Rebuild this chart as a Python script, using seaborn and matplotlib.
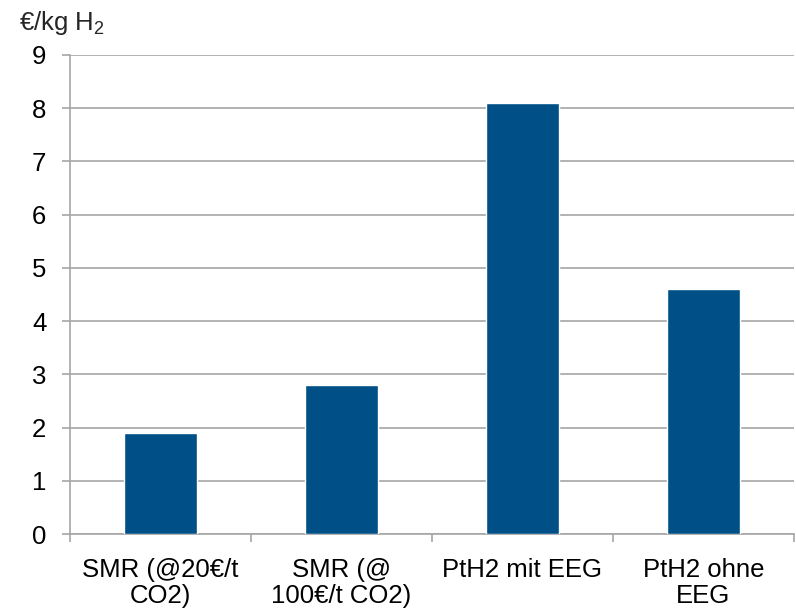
import matplotlib
matplotlib.use("Agg")
import matplotlib.pyplot as plt
import seaborn as sns
import pandas as pd
from matplotlib.ticker import FixedLocator

categories = ["SMR (@20€/t\nCO2)", "SMR (@\n100€/t CO2)", "PtH2 mit EEG", "PtH2 ohne\nEEG"]
values = [1.9, 2.8, 8.1, 4.6]
yticks = [0, 1, 2, 3, 4, 5, 6, 7, 8, 9]

sns.set_theme(style="white")
plt.rcParams['font.family'] = ['Liberation Sans', 'DejaVu Sans']
plt.rcParams['mathtext.fontset'] = 'custom'
plt.rcParams['mathtext.rm'] = 'Liberation Sans'
plt.rcParams['mathtext.it'] = 'Liberation Sans'

FS = 18.5
df = pd.DataFrame({"cat": categories, "val": values})

fig = plt.figure(figsize=(7.96, 6.11), dpi=100)
W, H = 796, 611
ax = fig.add_axes([70 / W, 1 - 534 / H, (794 - 70) / W, (534 - 55) / H])

sns.barplot(data=df, x="cat", y="val", color="#004F86", width=0.4, ax=ax,
            saturation=1, zorder=3)

ax.set_ylim(0, 9)
ax.set_xlim(-0.5, 3.5)
ax.set_yticks(yticks)
ax.yaxis.grid(True, color="#A6A6A6", linewidth=1.2, zorder=0)
ax.set_axisbelow(True)
ax.set_xlabel("")
ax.set_ylabel("")

for s in ["top", "right"]:
    ax.spines[s].set_visible(False)
for s in ["left", "bottom"]:
    ax.spines[s].set_color("#A6A6A6")
    ax.spines[s].set_linewidth(1.2)

ax.tick_params(axis="y", which="major", left=True, length=6, width=1.2,
               color="#A6A6A6", pad=11, labelsize=FS, labelcolor="black")
ax.tick_params(axis="x", which="major", bottom=False, length=0, pad=17,
               labelsize=FS, labelcolor="black")
ax.xaxis.set_minor_locator(FixedLocator([-0.5, 0.5, 1.5, 2.5, 3.5]))
ax.tick_params(axis="x", which="minor", bottom=True, length=6, width=1.2,
               color="#A6A6A6")
for lbl in ax.get_xticklabels():
    lbl.set_linespacing(1.12)

fig.text(19 / W, 1 - 23 / H, "€/kg H$_2$", fontsize=FS, va="center", ha="left")

fig.savefig("out.png", dpi=100)
